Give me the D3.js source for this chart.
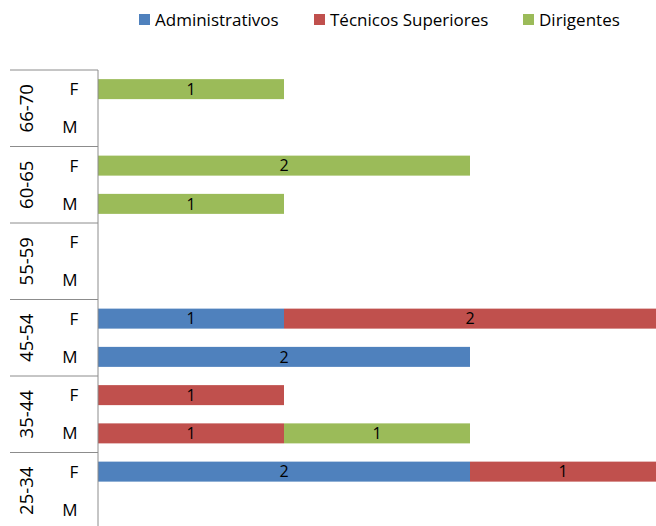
<!DOCTYPE html>
<html>
<head>
<meta charset="utf-8">
<script src="https://cdn.jsdelivr.net/npm/d3@7"></script>
<style>
  body { margin: 0; background: white; }
  text { font-family: "Open Sans", "Noto Sans", sans-serif; }
</style>
</head>
<body>
<div id="chart"></div>
<script>
var margin = {top: 70, right: 0, bottom: -3, left: 98},
    width = 656 - margin.left - margin.right,
    height = 526 - margin.top - margin.bottom;

// data
var groups = ["66-70", "60-65", "55-59", "45-54", "35-44", "25-34"];
var sexes = ["F", "M"];
var series = ["Administrativos", "Técnicos Superiores", "Dirigentes"];
var colors = ["#4F81BD", "#C0504D", "#9BBB59"];

// one value per row (group + sex), top to bottom
var administrativos = [0, 0, 0, 0, 0, 0, 1, 2, 0, 0, 2, 0];
var tecnicos        = [0, 0, 0, 0, 0, 0, 2, 0, 1, 1, 1, 0];
var dirigentes      = [1, 0, 2, 1, 0, 0, 0, 0, 0, 1, 0, 0];

var rows = [];
groups.forEach(function (g) {
    sexes.forEach(function (s) { rows.push({group: g, sex: s, key: g + "|" + s}); });
});
rows.forEach(function (r, i) {
    r["Administrativos"] = administrativos[i];
    r["Técnicos Superiores"] = tecnicos[i];
    r["Dirigentes"] = dirigentes[i];
});

var svg = d3.select("#chart")
    .append("svg")
    .attr("width", 656)
    .attr("height", 526);

var g = svg.append("g")
    .attr("transform", "translate(" + margin.left + "," + margin.top + ")");

var x = d3.scaleLinear()
    .domain([0, 3])
    .range([0, width]);

var y = d3.scaleBand()
    .domain(rows.map(function (d) { return d.key; }))
    .range([0, height]);

var color = d3.scaleOrdinal().domain(series).range(colors);

var stacked = d3.stack().keys(series)(rows);

var layer = g.selectAll(".layer")
    .data(stacked)
    .enter().append("g")
    .attr("class", "layer")
    .attr("fill", function (d) { return color(d.key); });

var barH = 20;

layer.selectAll("rect")
    .data(function (d) { return d.filter(function (p) { return p[1] > p[0]; }); })
    .enter().append("rect")
    .attr("x", function (d) { return x(d[0]); })
    .attr("y", function (d) { return y(d.data.key) + y.bandwidth() / 2 - barH / 2; })
    .attr("width", function (d) { return x(d[1]) - x(d[0]); })
    .attr("height", barH);

// value labels
layer.selectAll(".val")
    .data(function (d) { return d.filter(function (p) { return p[1] > p[0]; }); })
    .enter().append("text")
    .attr("class", "val")
    .attr("x", function (d) { return (x(d[0]) + x(d[1])) / 2; })
    .attr("y", function (d) { return y(d.data.key) + y.bandwidth() / 2; })
    .attr("dy", "0.36em")
    .attr("text-anchor", "middle")
    .attr("fill", "black")
    .style("font-size", "16px")
    .text(function (d) { return d[1] - d[0]; });

// left axis: vertical line, group separators, labels
var axisColor = "#8c8c8c";
g.append("line")
    .attr("x1", 0).attr("x2", 0)
    .attr("y1", 0).attr("y2", height)
    .attr("stroke", axisColor);

groups.forEach(function (grp) {
    var top = y(grp + "|F");
    var bottom = y(grp + "|M") + y.bandwidth();
    g.append("line")
        .attr("x1", -88).attr("x2", 0)
        .attr("y1", top).attr("y2", top)
        .attr("stroke", axisColor);
    g.append("text")
        .attr("transform", "translate(-72," + (top + bottom) / 2 + ") rotate(-90)")
        .attr("text-anchor", "middle")
        .attr("dy", "0.36em")
        .style("font-size", "18.5px")
        .text(grp);
});

rows.forEach(function (r) {
    g.append("text")
        .attr("x", r.sex === "F" ? -24 : -28)
        .attr("y", y(r.key) + y.bandwidth() / 2)
        .attr("dy", "0.36em")
        .attr("text-anchor", "middle")
        .style("font-size", "17px")
        .text(r.sex);
});

// legend
var legendX = [139, 314, 523];
var legend = svg.selectAll(".legend")
    .data(series)
    .enter().append("g")
    .attr("class", "legend")
    .attr("transform", function (d, i) { return "translate(" + legendX[i] + ",14)"; });

legend.append("rect")
    .attr("width", 11).attr("height", 11)
    .attr("fill", function (d) { return color(d); });

legend.append("text")
    .attr("x", 16)
    .attr("y", 6)
    .attr("dy", "0.36em")
    .style("font-size", "17px")
    .text(function (d) { return d; });
</script>
</body>
</html>
